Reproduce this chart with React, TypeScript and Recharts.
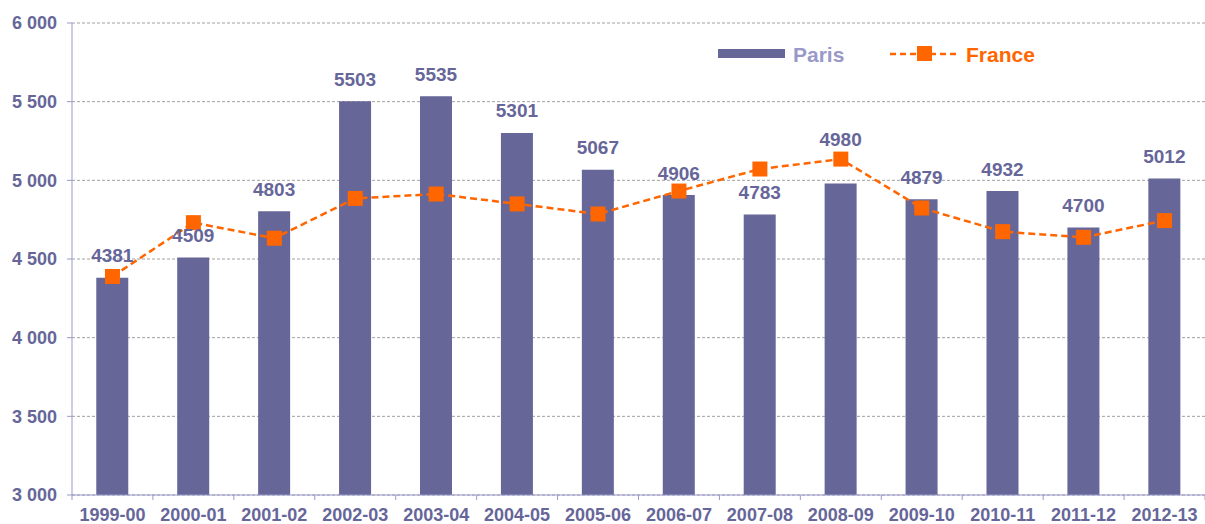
import {
  Bar,
  CartesianGrid,
  ComposedChart,
  LabelList,
  Line,
  XAxis,
  YAxis,
} from 'recharts';

const years = [
  '1999-00', '2000-01', '2001-02', '2002-03', '2003-04', '2004-05', '2005-06',
  '2006-07', '2007-08', '2008-09', '2009-10', '2010-11', '2011-12', '2012-13',
];
const paris = [4381, 4509, 4803, 5503, 5535, 5301, 5067, 4906, 4783, 4980, 4879, 4932, 4700, 5012];
const france = [4389, 4731, 4632, 4885, 4913, 4850, 4786, 4932, 5072, 5135, 4824, 4674, 4638, 4744];
const yTicks = [3000, 3500, 4000, 4500, 5000, 5500, 6000];
const Y_MIN = 3000;

const data = years.map((year, i) => ({ year, paris: paris[i], france: france[i] }));

const PURPLE = '#666699';
const AXIS = '#9999cc';
const ORANGE = '#ff6600';
const FONT = "Arial, 'Liberation Sans', sans-serif";

const fmt = (v: number) => String(v).replace(/\B(?=(\d{3})+(?!\d))/g, ' ');

const XTick = (props: any) => {
  const { x, y, payload, index } = props;
  const half = payload?.offset ?? 40.5;
  return (
    <g>
      <line x1={x - half} x2={x - half} y1={y} y2={y + 5} stroke={AXIS} />
      {index === years.length - 1 && (
        <line x1={x + half} x2={x + half} y1={y} y2={y + 5} stroke={AXIS} />
      )}
      <text
        x={x}
        y={y + 20}
        textAnchor="middle"
        dominantBaseline="central"
        fill={PURPLE}
        fontSize={18}
        fontWeight="bold"
        fontFamily={FONT}
      >
        {payload.value}
      </text>
    </g>
  );
};

// bar value label, pushed above the France marker when they would collide
const BarLabel = (props: any) => {
  const { x, y, width, height, value, index } = props;
  let ly = y - 22;
  const f = france[index];
  if (height > 0 && f != null) {
    const fy = y + height - ((f - Y_MIN) * height) / (value - Y_MIN);
    if (Math.abs(ly - fy) < 10) ly = fy - 20;
  }
  return (
    <text
      x={x + width / 2}
      y={ly}
      textAnchor="middle"
      dominantBaseline="central"
      fill={PURPLE}
      fontSize={19}
      fontWeight="bold"
      fontFamily={FONT}
    >
      {value}
    </text>
  );
};

const ChartLegend = () => (
  <svg width={340} height={26} style={{ position: 'absolute', left: 718, top: 40 }}>
    <rect x={0} y={9} width={67} height={9} fill={PURPLE} />
    <text x={75} y={14} dominantBaseline="central" fill="#9999c9" fontSize={21} fontWeight="bold" fontFamily={FONT}>
      Paris
    </text>
    <line x1={172} x2={240} y1={14} y2={14} stroke={ORANGE} strokeWidth={2.5} strokeDasharray="6 4" />
    <rect x={199} y={6} width={15} height={15} fill={ORANGE} />
    <text x={248} y={14} dominantBaseline="central" fill={ORANGE} fontSize={21} fontWeight="bold" fontFamily={FONT}>
      France
    </text>
  </svg>
);

const Square = (props: any) => {
  const { cx, cy } = props;
  if (cx == null || cy == null) return null;
  return <rect x={cx - 7.5} y={cy - 7.5} width={15} height={15} fill={ORANGE} />;
};

export default function App() {
  return (
    <div style={{ position: 'absolute', left: 0, top: 0, background: '#fff' }}>
      <ComposedChart
        width={1205}
        height={524}
        data={data}
        margin={{ top: 23, right: 0, bottom: 0, left: 0 }}
        barCategoryGap="30%"
      >
        <CartesianGrid vertical={false} stroke="#a0a0a0" strokeDasharray="3 2" />
        <XAxis
          dataKey="year"
          height={29}
          axisLine={{ stroke: AXIS }}
          tickLine={false}
          tickSize={0}
          tickMargin={0}
          interval={0}
          tick={<XTick />}
        />
        <YAxis
          domain={[Y_MIN, 6000]}
          ticks={yTicks}
          width={72}
          axisLine={{ stroke: AXIS }}
          tickLine={{ stroke: AXIS }}
          tickSize={5}
          tickMargin={10}
          tickFormatter={fmt}
          tick={{ fill: PURPLE, fontSize: 18, fontWeight: 'bold', fontFamily: FONT }}
          allowDataOverflow
        />
        <Bar dataKey="paris" fill={PURPLE} isAnimationActive={false}>
          <LabelList dataKey="paris" content={<BarLabel />} />
        </Bar>
        <Line
          dataKey="france"
          type="linear"
          stroke={ORANGE}
          strokeWidth={2.5}
          strokeDasharray="7 4"
          dot={<Square />}
          isAnimationActive={false}
        />
      </ComposedChart>
      <ChartLegend />
    </div>
  );
}
